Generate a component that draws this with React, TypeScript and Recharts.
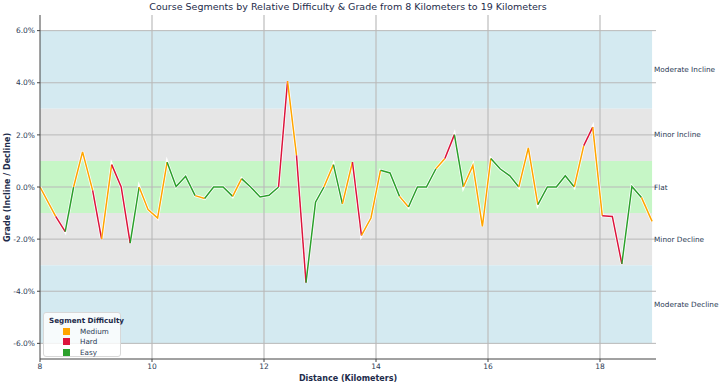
import React from 'react';
import { LineChart, Line, XAxis, YAxis, ReferenceArea, ReferenceLine } from 'recharts';

// distance (km) and grade (%) of each point along the course
const distances = [
  8.0, 8.28, 8.45, 8.6, 8.76, 8.94, 9.1, 9.28, 9.45, 9.61, 9.77, 9.93, 10.1, 10.27, 10.43, 10.6, 10.77,
  10.94, 11.1, 11.27, 11.44, 11.6, 11.76, 11.93, 12.09, 12.26, 12.42, 12.58, 12.75, 12.92, 13.07, 13.24,
  13.4, 13.58, 13.74, 13.91, 14.08, 14.25, 14.42, 14.58, 14.74, 14.9, 15.07, 15.23, 15.4, 15.56, 15.73,
  15.9, 16.05, 16.22, 16.39, 16.55, 16.72, 16.89, 17.06, 17.22, 17.38, 17.54, 17.71, 17.87, 18.04, 18.22,
  18.39, 18.57, 18.74, 18.93,
];
const grades = [
  0, -1.13, -1.71, 0, 1.35, -0.13, -2.0, 0.86, 0, -2.15, 0, -0.87, -1.19, 0.95, 0.02, 0.41, -0.33,
  -0.44, 0, 0, -0.36, 0.32, 0, -0.38, -0.32, 0, 4.06, 1.22, -3.67, -0.58, 0, 0.86,
  -0.65, 0.96, -1.86, -1.19, 0.64, 0.54, -0.36, -0.77, 0, 0, 0.7, 1.09, 2.01, 0, 0.83,
  -1.51, 1.09, 0.69, 0.43, 0, 1.5, -0.68, 0, 0, 0.43, 0, 1.59, 2.3, -1.1, -1.13,
  -2.95, 0.02, -0.4, -1.32,
];
// difficulty of the segment starting at each point (M = Medium, H = Hard, E = Easy)
const segmentDifficulty = [
  'M', 'H', 'E', 'M', 'M', 'H', 'M', 'H', 'H', 'E', 'M', 'M', 'M', 'E', 'E', 'E',
  'M', 'E', 'E', 'E', 'M', 'E', 'E', 'E', 'E', 'H', 'M', 'H', 'E', 'E', 'M',
  'E', 'M', 'H', 'M', 'M', 'E', 'E', 'M', 'E', 'E', 'E', 'M', 'H', 'E', 'M',
  'M', 'M', 'E', 'E', 'E', 'M', 'M', 'E', 'E', 'E', 'E', 'M', 'H', 'M', 'H',
  'H', 'E', 'E', 'M',
];

const difficultyNames = ['Medium', 'Hard', 'Easy'];
const difficultyColors: Record<string, string> = { M: '#FFA500', H: '#DC143C', E: '#2CA02C' };
const legendCodes = ['M', 'H', 'E'];

const bandNames = ['Moderate Incline', 'Minor Incline', 'Flat', 'Minor Decline', 'Moderate Decline'];
const bandLows = [3, 1, -1, -3, -6];
const bandHighs = [6, 3, 1, -1, -3];
const bandColors = ['#D4EAF1', '#E6E6E6', '#C6F6C6', '#E6E6E6', '#D4EAF1'];

const xTicks = [8, 10, 12, 14, 16, 18];
const yTicks = [-6, -4, -2, 0, 2, 4, 6];

// split the segments into runs of the same difficulty, one line each
const runs: { key: string; code: string }[] = [];
const rows: any[] = distances.map((d, i) => ({ distance: d, grade: grades[i] }));
let start = 0;
for (let i = 1; i <= segmentDifficulty.length; i++) {
  if (i === segmentDifficulty.length || segmentDifficulty[i] !== segmentDifficulty[start]) {
    const key = `run${runs.length}`;
    runs.push({ key, code: segmentDifficulty[start] });
    for (let p = start; p <= i; p++) rows[p][key] = grades[p];
    start = i;
  }
}

const textColor = '#2b3a55';
const font = 'DejaVu Sans, sans-serif';

function LegendBox() {
  return (
    <div
      style={{
        position: 'absolute',
        left: 43,
        top: 312,
        width: 78,
        height: 45,
        boxSizing: 'border-box',
        background: 'rgba(255,255,255,0.8)',
        border: '1px solid #d8d8d8',
        borderRadius: 3,
        padding: '3px 0 0 5px',
        fontFamily: font,
        fontSize: 7.2,
        color: textColor,
      }}
    >
      <div style={{ fontWeight: 'bold', color: '#1d2b4a', marginBottom: 1, whiteSpace: 'nowrap' }}>Segment Difficulty</div>
      {legendCodes.map((c, i) => (
        <div key={c} style={{ display: 'flex', alignItems: 'center', height: 10.5 }}>
          <span style={{ display: 'inline-block', width: 7, height: 7, background: difficultyColors[c], marginLeft: 14, marginRight: 10 }} />
          <span>{difficultyNames[i]}</span>
        </div>
      ))}
    </div>
  );
}

export default function App() {
  return (
    <div style={{ position: 'absolute', left: 0, top: 0, width: 720, height: 386, background: '#fff' }}>
      <div
        style={{
          position: 'absolute',
          left: 40,
          width: 616,
          top: 1,
          textAlign: 'center',
          fontFamily: font,
          fontSize: 9.5,
          color: '#1d2b4a',
        }}
      >
        Course Segments by Relative Difficulty &amp; Grade from 8 Kilometers to 19 Kilometers
      </div>
      <LineChart width={720} height={386} data={rows} margin={{ top: 15, right: 64, bottom: 0, left: 0 }}>
        {bandNames.map((name, i) => (
          <ReferenceArea
            key={name}
            x1={distances[0]}
            x2={distances[distances.length - 1]}
            y1={bandLows[i]}
            y2={bandHighs[i]}
            fill={bandColors[i]}
            fillOpacity={1}
            stroke="none"
            label={{ value: name, position: 'right', offset: 2, fill: textColor, fontSize: 7.3, fontFamily: font }}
          />
        ))}
        {xTicks.slice(1).map((t) => (
          <ReferenceLine key={`x${t}`} x={t} stroke="#bdbdbd" strokeWidth={1.2} />
        ))}
        {yTicks.map((t) => (
          <ReferenceLine key={`y${t}`} y={t} stroke="#b8b8b8" strokeWidth={1} />
        ))}
        <XAxis
          dataKey="distance"
          type="number"
          domain={[8, 19]}
          ticks={xTicks}
          height={27}
          stroke="#444"
          tickSize={3}
          tick={{ fill: textColor, fontSize: 7.5, fontFamily: font }}
          label={{ value: 'Distance (Kilometers)', position: 'insideBottom', offset: 5, fill: '#1d2b4a', fontSize: 8, fontWeight: 'bold', fontFamily: font }}
        />
        <YAxis
          type="number"
          domain={[-6.6, 6.6]}
          ticks={yTicks}
          width={40}
          stroke="#444"
          tickSize={3}
          tickFormatter={(v: number) => `${v.toFixed(1)}%`}
          tick={{ fill: textColor, fontSize: 7.5, fontFamily: font }}
          label={{ value: 'Grade (Incline / Decline)', angle: -90, position: 'insideLeft', offset: 7, dy: 55, fill: '#1d2b4a', fontSize: 8, fontWeight: 'bold', fontFamily: font }}
        />
        <Line dataKey="grade" type="linear" stroke="#ffffff" strokeWidth={3} dot={false} isAnimationActive={false} legendType="none" />
        {runs.map((r) => (
          <Line
            key={r.key}
            dataKey={r.key}
            type="linear"
            stroke={difficultyColors[r.code]}
            strokeWidth={1.5}
            dot={false}
            connectNulls={false}
            isAnimationActive={false}
            legendType="none"
          />
        ))}
      </LineChart>
      <LegendBox />
    </div>
  );
}
